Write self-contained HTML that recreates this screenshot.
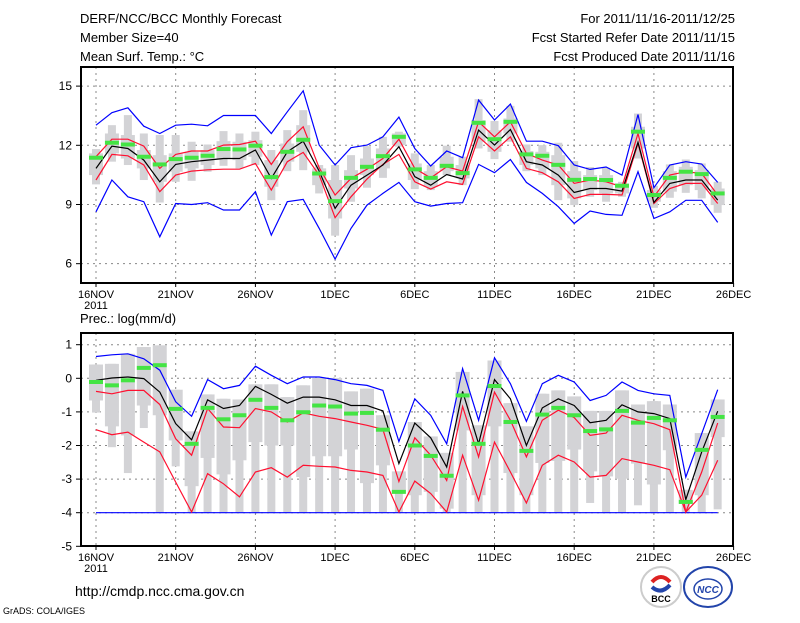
<!DOCTYPE html>
<html><head><meta charset="utf-8">
<style>
body{margin:0;background:#fff;width:800px;height:618px;overflow:hidden;}
svg text{font-family:"Liberation Sans",sans-serif;}
</style></head>
<body>
<svg id="chart" width="800" height="618" xmlns="http://www.w3.org/2000/svg">
<text x="80" y="23" font-size="13">DERF/NCC/BCC Monthly Forecast</text>
<text x="80" y="42" font-size="13">Member Size=40</text>
<text x="80" y="61" font-size="13">Mean Surf. Temp.: °C</text>
<text x="735" y="23" font-size="13" text-anchor="end">For 2011/11/16-2011/12/25</text>
<text x="735" y="42" font-size="13" text-anchor="end">Fcst Started Refer Date 2011/11/15</text>
<text x="735" y="61" font-size="13" text-anchor="end">Fcst Produced Date 2011/11/16</text>
<text x="80" y="323" font-size="13">Prec.: log(mm/d)</text>
<text x="75" y="596" font-size="14">http://cmdp.ncc.cma.gov.cn</text>
<text x="3" y="614" font-size="9">GrADS: COLA/IGES</text>
<g>
<circle cx="661" cy="587" r="20" fill="#fff" stroke="#ccc" stroke-width="2"/>
<path d="M652 582 q9 -10 18 0" stroke="#d22" stroke-width="4" fill="none"/>
<path d="M652 587 q9 8 18 -2" stroke="#24a" stroke-width="4" fill="none"/>
<text x="661" y="602" font-size="9" font-weight="bold" text-anchor="middle">BCC</text>
</g>
<g>
<ellipse cx="708" cy="587" rx="24" ry="20" fill="#fff" stroke="#24a" stroke-width="2"/>
<ellipse cx="708" cy="589" rx="14" ry="10" fill="none" stroke="#24a" stroke-width="1.5"/>
<text x="708" y="593" font-size="10" font-weight="bold" font-style="italic" fill="#24a" text-anchor="middle">NCC</text>
</g>
</svg>
<script>
// ---- data (day index 0 = 16NOV) ----
const days = 40;
const xTickLabels = ["16NOV","21NOV","26NOV","1DEC","6DEC","11DEC","16DEC","21DEC","26DEC"];
const tTicks = [6,9,12,15];
const pTicks = [1,0,-1,-2,-3,-4,-5];
// temperature
const tBlueHi = [13.02,13.65,13.90,12.97,12.60,13.02,13.07,12.99,13.51,13.51,13.51,12.60,13.70,14.76,12.01,11.0,11.88,12.01,12.43,13.43,11.84,10.95,11.71,11.37,14.29,13.28,14.09,12.21,12.21,11.98,11.0,10.78,10.90,10.49,13.56,9.85,11.0,11.17,11.05,10.12];
const tBlueLo = [8.63,10.24,9.39,9.14,7.36,9.05,9.0,9.09,8.72,8.72,9.65,7.45,9.14,9.26,7.79,6.23,7.79,8.97,9.56,10.12,9.14,8.92,9.05,9.09,11.03,10.61,11.28,10.12,9.56,8.89,8.04,8.67,8.50,8.45,10.66,8.29,8.63,9.21,9.21,8.09];
const tRedHi = [11.42,12.31,12.31,11.96,10.83,11.54,11.71,11.71,12.01,12.04,12.21,11.03,12.18,12.94,10.86,9.48,10.32,10.79,11.33,12.31,10.83,10.35,10.91,10.69,13.19,12.43,13.19,11.59,11.25,11.0,10.07,10.24,10.15,9.90,12.60,9.39,10.49,10.66,10.57,9.48];
const tRedLo = [10.24,11.54,11.47,11.0,9.65,10.49,10.69,10.76,10.79,10.79,11.08,9.73,11.17,11.64,10.49,8.33,9.39,10.29,11.03,11.54,10.15,9.78,10.15,10.02,12.43,11.71,12.43,10.83,10.61,10.15,9.31,9.51,9.51,9.48,12.09,9.05,9.81,10.07,10.07,9.05];
const tMean = [10.83,11.96,11.84,11.25,10.15,11.03,11.17,11.25,11.33,11.33,11.76,10.32,11.67,12.21,10.69,8.80,9.98,10.49,11.0,11.93,10.41,9.98,10.52,10.29,12.77,12.01,12.80,11.17,11.0,10.49,9.61,9.81,9.81,9.68,12.15,9.10,10.07,10.24,10.24,9.22];
const tObs = [11.37,12.13,12.04,11.42,11.03,11.30,11.37,11.47,11.81,11.79,11.98,10.39,11.67,12.28,10.57,9.17,10.35,10.91,11.45,12.43,10.78,10.35,10.96,10.59,13.14,12.31,13.19,11.54,11.47,11.01,10.25,10.29,10.24,9.95,12.69,9.48,10.35,10.66,10.54,9.56];
const tWhiskHi = [11.81,13.02,13.53,12.60,12.52,12.52,12.18,12.04,12.72,12.60,12.69,11.76,12.77,13.78,11.0,11.0,11.50,11.96,12.43,12.69,11.59,11.0,11.98,11.42,14.34,13.23,14.0,12.04,12.01,12.13,11.20,10.90,10.86,10.15,13.61,9.95,11.03,11.28,11.08,10.15];
const tWhiskLo = [10.02,11.17,11.0,10.24,9.10,10.15,10.20,10.66,10.96,10.83,11.0,9.22,10.69,10.74,9.56,7.42,9.14,9.85,10.35,11.93,9.78,9.73,10.49,9.98,11.84,11.30,12.18,10.69,10.49,9.22,8.97,9.39,9.14,9.39,11.33,8.83,9.34,9.59,9.31,8.58];
const tBoxHi = [11.59,12.60,12.52,11.76,11.50,11.59,11.67,11.76,12.21,12.18,12.26,11.25,12.09,13.02,10.83,10.24,10.74,11.33,11.84,12.60,11.08,10.69,11.42,11.0,13.28,12.77,13.36,11.71,11.67,11.50,10.69,10.49,10.49,10.07,12.94,9.73,10.69,10.91,10.74,9.81];
const tBoxLo = [10.49,11.59,11.33,10.83,10.15,10.66,10.83,11.0,11.33,11.25,11.42,9.90,11.17,11.67,9.98,8.29,9.81,10.49,10.83,12.01,10.24,9.90,10.69,10.32,12.18,11.67,12.60,11.0,10.83,9.98,9.31,9.73,9.56,9.56,11.84,9.14,9.65,9.98,9.73,8.97];
// precipitation
const pBlueHi = [0.65,0.70,0.73,0.58,0.24,-0.70,-1.13,-0.04,-0.31,-0.21,0.36,0.09,-0.16,0.04,0.04,-0.04,-0.16,-0.21,-0.36,-1.88,-0.61,-1.10,-1.95,0.29,-1.25,0.61,-0.16,-1.28,-0.16,0.09,-0.11,-0.66,-0.51,-0.11,-0.36,-0.46,-0.51,-2.94,-1.65,-0.34];
const pMean = [-0.06,0.01,0.04,-0.01,-0.41,-1.35,-1.83,-0.64,-0.90,-0.81,-0.24,-0.48,-0.74,-0.56,-0.56,-0.64,-0.81,-0.81,-0.97,-2.54,-1.33,-1.77,-2.64,-0.39,-1.95,-0.04,-0.61,-2.0,-0.88,-0.61,-0.81,-1.32,-1.25,-0.79,-1.0,-1.05,-1.20,-3.61,-2.19,-0.98];
const pRedHi = [-0.39,-0.46,-0.36,-0.36,-0.78,-1.80,-2.29,-0.90,-1.45,-1.47,-0.90,-1.0,-1.30,-1.03,-1.13,-1.20,-1.30,-1.40,-1.52,-3.07,-1.77,-2.29,-3.04,-0.84,-2.34,-0.41,-1.25,-2.34,-1.25,-0.95,-1.17,-1.70,-1.63,-1.10,-1.25,-1.35,-1.53,-3.98,-2.79,-1.33];
const pRedLo = [-1.53,-1.68,-1.60,-1.90,-2.19,-3.09,-3.98,-2.84,-3.14,-3.53,-2.79,-2.66,-2.94,-2.59,-2.62,-2.64,-2.74,-2.79,-2.89,-3.98,-3.06,-3.43,-3.98,-2.29,-3.63,-1.90,-2.79,-3.71,-2.59,-2.29,-2.49,-2.94,-2.89,-2.39,-2.49,-2.59,-2.72,-3.98,-3.48,-2.44];
const pBlueLo = [-4,-4,-4,-4,-4,-4,-4,-4,-4,-4,-4,-4,-4,-4,-4,-4,-4,-4,-4,-4,-4,-4,-4,-4,-4,-4,-4,-4,-4,-4,-4,-4,-4,-4,-4,-4,-4,-4,-4,-4];
const pObs = [-0.11,-0.21,-0.06,0.31,0.39,-0.91,-1.95,-0.88,-1.22,-1.10,-0.64,-0.88,-1.25,-1.01,-0.81,-0.84,-1.05,-1.03,-1.53,-3.38,-2.0,-2.31,-2.90,-0.51,-1.95,-0.23,-1.30,-2.16,-1.08,-0.88,-1.10,-1.57,-1.52,-0.97,-1.32,-1.18,-1.25,-3.68,-2.13,-1.15];
const pBoxHi = [0.41,0.43,0.73,0.93,0.98,-0.34,-1.58,-0.48,-0.61,-0.63,-0.18,-0.18,-0.56,-0.21,0.01,0.01,-0.39,-0.31,-1.10,-2.77,-1.30,-1.73,-2.22,0.19,-1.40,0.53,-0.74,-1.43,-0.46,-0.36,-0.54,-0.97,-0.97,-0.36,-0.78,-0.68,-0.78,-3.32,-1.63,-0.63];
const pBoxLo = [-0.66,-1.43,-1.70,-0.81,-1.10,-1.85,-3.21,-2.37,-2.86,-2.44,-1.90,-2.0,-2.0,-2.94,-2.32,-2.32,-2.12,-3.12,-2.59,-3.43,-3.48,-3.38,-3.88,-1.55,-3.48,-1.43,-2.82,-3.48,-2.52,-2.46,-2.12,-2.77,-2.92,-2.99,-2.54,-3.16,-2.14,-3.73,-3.48,-1.75];
const pWhiskLo = [-1.02,-2.05,-2.82,-1.48,-4,-2.62,-4,-4,-4,-4,-4,-4,-4,-4,-4,-4,-4,-4,-4,-4,-4,-4,-4,-4,-4,-4,-4,-4,-4,-4,-4,-3.71,-4,-4,-3.78,-4,-4,-4,-4,-3.90];

// ---- axes ----
const NS="http://www.w3.org/2000/svg";
const svg=document.getElementById('chart');
const X0=96, DX=15.94;
const L=81, R=733;
function xD(d){return X0+d*DX;}
function yT(v){return 145.3-(v-12)*19.73;}
function yP(v){return 378.3-v*33.6;}
function mk(tag,attrs,parent){const e=document.createElementNS(NS,tag);for(const k in attrs)e.setAttribute(k,attrs[k]);(parent||svg).appendChild(e);return e;}

function panel(name,top,bot,ticks,yf,fmt){
  const g=mk('g',{});
  
  
  for(const t of ticks){
    const y=yf(t);
    if(y>top+2&&y<bot-2){
      const gl=mk('line',{x1:L,x2:R,y1:y,y2:y,stroke:'#888','stroke-dasharray':'2,4','stroke-width':1},g);
      
      
    }
    const tk=mk('line',{x1:L-5,x2:L,y1:y,y2:y,stroke:'#000'},g);
    
    
    const tx=mk('text',{x:L-9,y:y+4,'font-size':12,'text-anchor':'end'},g);
    tx.textContent=fmt(t);
    
    
  }
  xTickLabels.forEach((lab,i)=>{
    const x=xD(i*5);
    if(x>L+2&&x<R-2){
      const gl=mk('line',{x1:x,x2:x,y1:top,y2:bot,stroke:'#888','stroke-dasharray':'2,4','stroke-width':1},g);
      
      
    }
    const tk=mk('line',{x1:x,x2:x,y1:bot,y2:bot+4,stroke:'#000'},g);
    
    
    const tx=mk('text',{x:x,y:bot+15,'font-size':11,'text-anchor':'middle'},g);
    tx.textContent=lab;
    
    
  });
  const yr=mk('text',{x:xD(0),y:bot+26,'font-size':11,'text-anchor':'middle'},g);
  yr.textContent='2011';
  
  
  return g;
}
function boxes(name,hi,blo,wlo,whi,yf){
  const g=mk('g',{fill:'#d3d3d6'});
  
  
  for(let d=0;d<days;d++){
    const x=xD(d);
    const top=whi?whi[d]:hi[d];
    const w=mk('rect',{x:x-4,y:yf(top),width:8,height:Math.max(1,yf(wlo[d])-yf(top))},g);
    
    
    const b=mk('rect',{x:x-7,y:yf(hi[d]),width:14,height:Math.max(1,yf(blo[d])-yf(hi[d]))},g);
    
    
  }
}
function line(name,arr,yf,color){
  const pts=arr.map((v,d)=>xD(d).toFixed(1)+','+yf(v).toFixed(1)).join(' ');
  const p=mk('polyline',{points:pts,fill:'none',stroke:color,'stroke-width':1.2});
  
  
}
function obs(name,arr,yf){
  const g=mk('g',{fill:'#44e444'});
  
  
  arr.forEach((v,d)=>{
    const r=mk('rect',{x:xD(d)-7,y:yf(v)-2,width:14,height:4},g);
    
    
  });
}
function frame(name,top,bot){
  const f=mk('rect',{x:L,y:top,width:R-L,height:bot-top,fill:'none',stroke:'#000','stroke-width':2});
  
  
}
// temperature panel
panel('temperature-axes',67,283,tTicks,yT,v=>String(v));
boxes('temperature-ensemble-boxes',tBoxHi,tBoxLo,tWhiskLo,tWhiskHi,yT);
line('temperature-upper-blue',tBlueHi,yT,'#0000ff');
line('temperature-lower-blue',tBlueLo,yT,'#0000ff');
line('temperature-upper-red',tRedHi,yT,'#ff1030');
line('temperature-lower-red',tRedLo,yT,'#ff1030');
line('temperature-mean',tMean,yT,'#000');
obs('temperature-observed',tObs,yT);
frame('temperature-frame',67,283);
// precipitation panel
panel('precip-axes',333,546,pTicks,yP,v=>String(v));
boxes('precip-ensemble-boxes',pBoxHi,pBoxLo,pWhiskLo,null,yP);
line('precip-lower-blue',pBlueLo,yP,'#0000ff');
line('precip-upper-blue',pBlueHi,yP,'#0000ff');
line('precip-upper-red',pRedHi,yP,'#ff1030');
line('precip-lower-red',pRedLo,yP,'#ff1030');
line('precip-mean',pMean,yP,'#000');
obs('precip-observed',pObs,yP);
frame('precip-frame',333,546);
</script>
</body></html>
